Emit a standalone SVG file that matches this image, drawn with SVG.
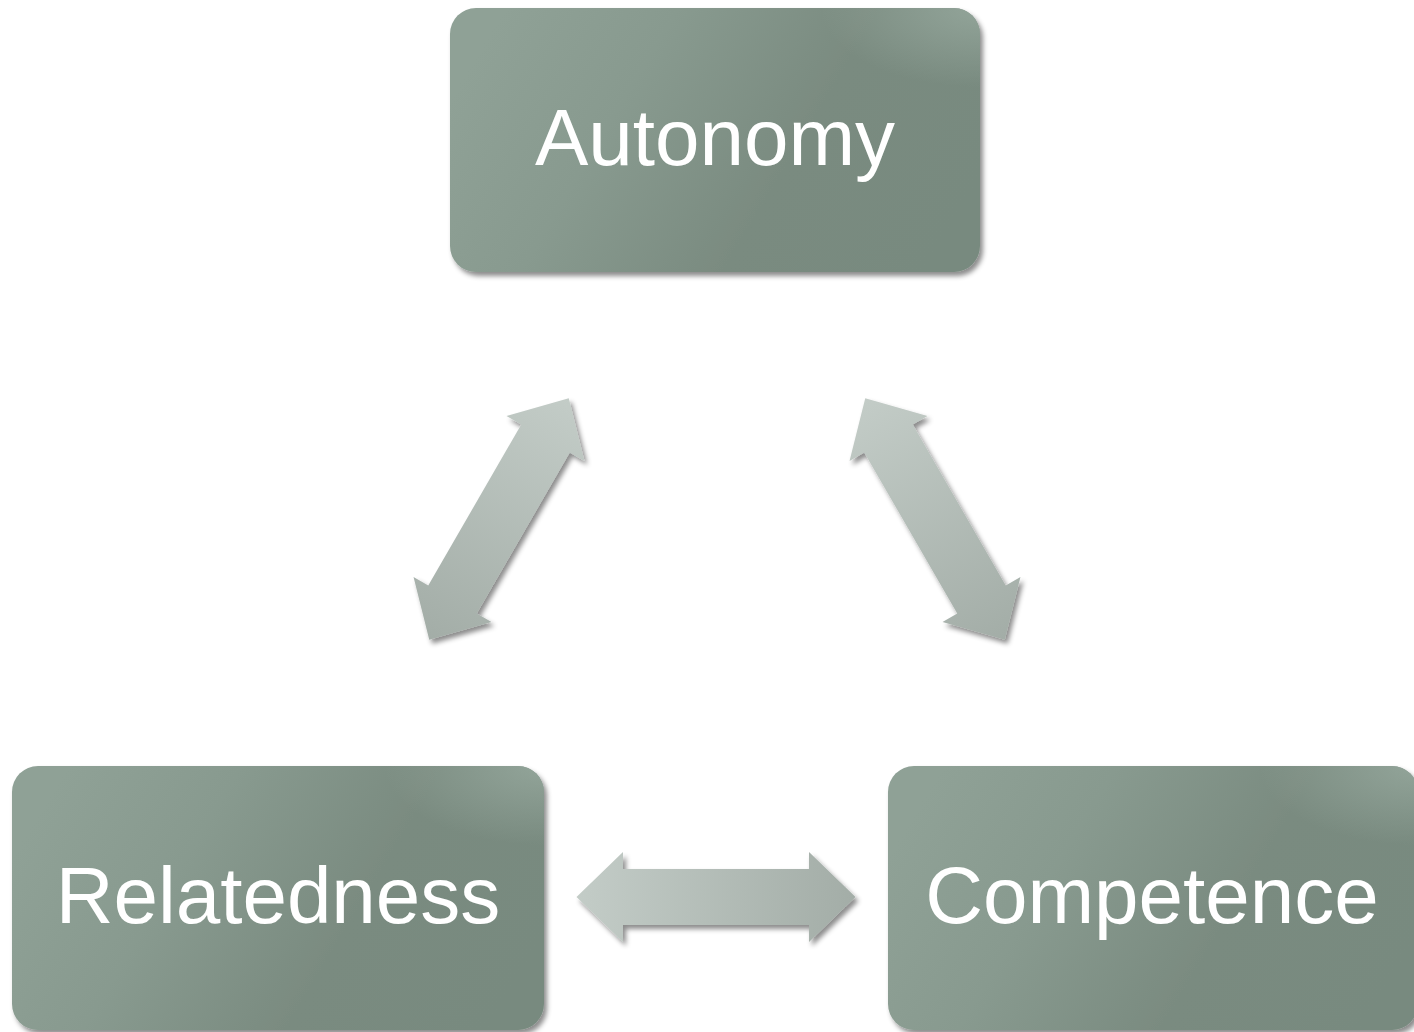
<svg xmlns="http://www.w3.org/2000/svg" width="1414" height="1032" viewBox="0 0 1414 1032">
  <defs>
    <linearGradient id="boxGrad" x1="0" y1="0.35" x2="1" y2="0.65">
      <stop offset="0" stop-color="#8fa196"/>
      <stop offset="0.3" stop-color="#889a8f"/>
      <stop offset="0.65" stop-color="#7a8b80"/>
      <stop offset="1" stop-color="#788a7f"/>
    </linearGradient>
    <radialGradient id="boxHi" cx="1" cy="0" r="0.3">
      <stop offset="0" stop-color="#95a79c" stop-opacity="0.9"/>
      <stop offset="1" stop-color="#95a79c" stop-opacity="0"/>
    </radialGradient>
    <linearGradient id="arrowGrad" x1="0" y1="0" x2="1" y2="0">
      <stop offset="0" stop-color="#c3ccc7"/>
      <stop offset="1" stop-color="#a3ada7"/>
    </linearGradient>
    <filter id="shadow" x="-10%" y="-10%" width="125%" height="125%">
      <feDropShadow dx="3" dy="4" stdDeviation="2.5" flood-color="#000" flood-opacity="0.45"/>
    </filter>
    <path id="dblArrow" d="M -139.5 0 L -93 -45 L -93 -28 L 93 -28 L 93 -45 L 139.5 0 L 93 45 L 93 28 L -93 28 L -93 45 Z"/>
  </defs>
  <style>
    .box { fill: url(#boxGrad); }
    .hi { fill: url(#boxHi); }
    .label { font-family: "Liberation Sans", Arial, sans-serif; font-size: 80px; fill: #ffffff; text-anchor: middle; }
    .arrow { fill: url(#arrowGrad); }
  </style>
  <rect width="1414" height="1032" fill="#ffffff"/>

  <g id="connectors">
    <g filter="url(#shadow)">
      <use href="#dblArrow" class="arrow" transform="translate(499,519) rotate(120)"/>
    </g>
    <g filter="url(#shadow)">
      <use href="#dblArrow" class="arrow" transform="translate(935,519) rotate(60)"/>
    </g>
    <g filter="url(#shadow)">
      <use href="#dblArrow" class="arrow" transform="translate(716,897)"/>
    </g>
  </g>

  <g id="node-autonomy">
    <g filter="url(#shadow)">
      <rect class="box" x="450" y="8" width="530" height="264" rx="26"/>
    </g>
    <rect class="hi" x="450" y="8" width="530" height="264" rx="26"/>
    <text class="label" x="715" y="165">Autonomy</text>
  </g>

  <g id="node-relatedness">
    <g filter="url(#shadow)">
      <rect class="box" x="12" y="766" width="532" height="264" rx="26"/>
    </g>
    <rect class="hi" x="12" y="766" width="532" height="264" rx="26"/>
    <text class="label" x="278" y="923">Relatedness</text>
  </g>

  <g id="node-competence">
    <g filter="url(#shadow)">
      <rect class="box" x="888" y="766" width="530" height="264" rx="26"/>
    </g>
    <rect class="hi" x="888" y="766" width="530" height="264" rx="26"/>
    <text class="label" x="1152" y="923">Competence</text>
  </g>
</svg>
